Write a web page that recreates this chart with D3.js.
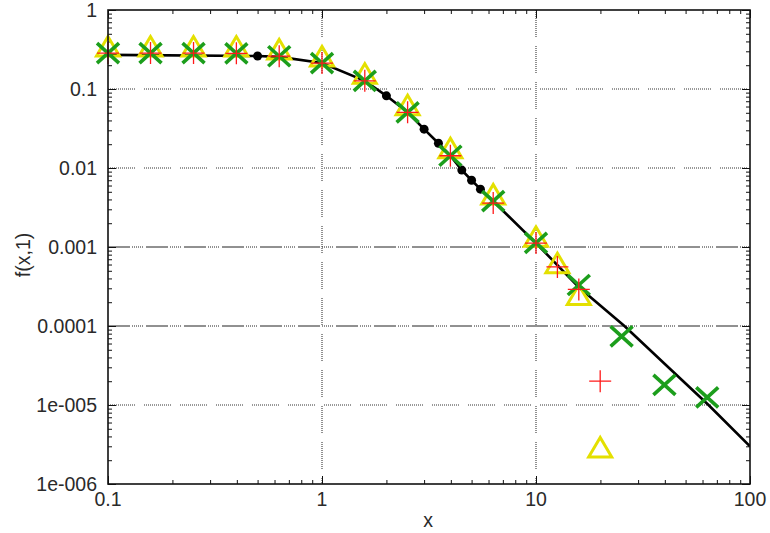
<!DOCTYPE html>
<html>
<head>
<meta charset="utf-8">
<script src="https://cdn.jsdelivr.net/npm/d3@7"></script>
<style>
  html, body { margin: 0; padding: 0; background: #fff; }
  svg { display: block; font-family: "Liberation Sans", Arial, sans-serif; }
</style>
</head>
<body>
<svg id="chart" width="770" height="533"></svg>
<script>
// ---- data ----
const xTickLabels = ["0.1", "1", "10", "100"];
const yTickLabels = ["1e-006", "1e-005", "0.0001", "0.001", "0.01", "0.1", "1"];
const xTickValues = [0.1, 1, 10, 100];
const yTickValues = [1e-6, 1e-5, 1e-4, 1e-3, 1e-2, 1e-1, 1];

const lineX = [0.1, 0.5, 0.631, 1, 1.585, 2, 2.512, 3, 3.5, 3.981, 4.5, 5, 5.5, 6.31, 10, 15.85, 25.9, 40, 64, 100];
const lineY = [0.27, 0.262, 0.255, 0.213, 0.127, 0.082, 0.0507, 0.031, 0.0206, 0.0143, 0.0094, 0.0070, 0.0054, 0.0038, 0.00112, 0.00031, 1e-4, 3.3e-5, 1e-5, 3.0e-6];

const dotX = [0.5, 2, 3, 3.5, 4.5, 5, 5.5];
const dotY = [0.262, 0.082, 0.031, 0.0206, 0.0094, 0.0070, 0.0054];

const plusX = [0.1, 0.158, 0.251, 0.398, 0.631, 1, 1.585, 2.512, 3.981, 6.31, 10, 12.59, 15.85, 19.95];
const plusY = [0.285, 0.285, 0.285, 0.283, 0.26, 0.213, 0.127, 0.0507, 0.0143, 0.0036, 0.00112, 5.6e-4, 2.9e-4, 2.0e-5];

const triX = [0.1, 0.158, 0.251, 0.398, 0.631, 1, 1.585, 2.512, 3.981, 6.31, 10, 12.59, 15.85, 19.95];
const triY = [0.32, 0.32, 0.32, 0.32, 0.295, 0.24, 0.145, 0.058, 0.0165, 0.0043, 0.00125, 5.8e-4, 2.3e-4, 2.7e-6];

const crossX = [0.1, 0.158, 0.251, 0.398, 0.631, 1, 1.585, 2.512, 3.981, 6.31, 10, 15.85, 25.12, 39.81, 63.1];
const crossY = [0.285, 0.285, 0.285, 0.283, 0.26, 0.213, 0.127, 0.0507, 0.0143, 0.0038, 0.00113, 0.00033, 7.4e-5, 1.8e-5, 1.25e-5];

// ---- layout ----
const svg = d3.select("#chart");
const L = 108, T = 10, W = 642, H = 474;
const x = d3.scaleLog().domain([0.1, 100]).range([L, L + W]);
const y = d3.scaleLog().domain([1e-6, 1]).range([T + H, T]);

const g = svg.append("g");

// grid
function dotted() {
  const a = [];
  for (let i = 0; i < 14; i++) a.push(1, 1);
  a[a.length - 1] = 9;
  return a.join(" ");
}
function mixed() {
  const a = [22, 2];
  for (let i = 0; i < 6; i++) a.push(1, 1);
  a[a.length - 1] = 3;
  return a.join(" ");
}
yTickValues.slice(1, -1).forEach(v => {
  const strong = (v === 1e-3 || v === 1e-4);
  g.append("line")
    .attr("x1", L).attr("x2", L + W)
    .attr("y1", y(v)).attr("y2", y(v))
    .attr("stroke", strong ? "#222" : "#333")
    .attr("stroke-width", 1)
    .attr("stroke-dasharray", strong ? mixed() : dotted());
});
xTickValues.slice(1, -1).forEach(v => {
  g.append("line")
    .attr("x1", x(v)).attr("x2", x(v))
    .attr("y1", T).attr("y2", T + H)
    .attr("stroke", "#222")
    .attr("stroke-width", 1)
    .attr("stroke-dasharray", dotted());
});

// ticks (inside, mirrored)
const minorX = [], minorY = [];
[0.1, 1, 10].forEach(d => { for (let k = 2; k <= 9; k++) minorX.push(d * k); });
[1e-6, 1e-5, 1e-4, 1e-3, 1e-2, 1e-1].forEach(d => { for (let k = 2; k <= 9; k++) minorY.push(d * k); });

const axB = d3.axisBottom(x).tickValues(xTickValues).tickSize(-8).tickFormat(() => "");
const axT = d3.axisTop(x).tickValues(xTickValues).tickSize(-8).tickFormat(() => "");
const axL = d3.axisLeft(y).tickValues(yTickValues).tickSize(-8).tickFormat(() => "");
const axR = d3.axisRight(y).tickValues(yTickValues).tickSize(-8).tickFormat(() => "");
const mB = d3.axisBottom(x).tickValues(minorX).tickSize(-4).tickFormat(() => "");
const mT = d3.axisTop(x).tickValues(minorX).tickSize(-4).tickFormat(() => "");
const mL = d3.axisLeft(y).tickValues(minorY).tickSize(-4).tickFormat(() => "");
const mR = d3.axisRight(y).tickValues(minorY).tickSize(-4).tickFormat(() => "");

function addAxis(ax, tx, ty) {
  const a = g.append("g").attr("transform", `translate(${tx},${ty})`).call(ax);
  a.select(".domain").remove();
  a.selectAll("line").attr("stroke", "#111").attr("stroke-width", 1);
}
addAxis(axB, 0, T + H); addAxis(mB, 0, T + H);
addAxis(axT, 0, T); addAxis(mT, 0, T);
addAxis(axL, L, 0); addAxis(mL, L, 0);
addAxis(axR, L + W, 0); addAxis(mR, L + W, 0);

// tick labels
const lab = svg.append("g").attr("fill", "#2a2a2a").attr("font-size", 19.5);
xTickValues.forEach((v, i) => {
  lab.append("text").attr("x", x(v)).attr("y", T + H + 22)
    .attr("text-anchor", "middle").text(xTickLabels[i]);
});
yTickValues.forEach((v, i) => {
  lab.append("text").attr("x", L - 11).attr("y", y(v) + 7)
    .attr("text-anchor", "end").text(yTickLabels[i]);
});
lab.append("text").attr("x", L + W / 2 - 1).attr("y", 527).attr("text-anchor", "middle").text("x");
lab.append("text").attr("transform", `translate(30,${T + H / 2 + 8}) rotate(-90)`)
  .attr("text-anchor", "middle").text("f(x,1)");

// clip
svg.append("clipPath").attr("id", "clip").append("rect")
  .attr("x", L).attr("y", T).attr("width", W).attr("height", H);

// black line
const lineData = lineX.map((v, i) => [v, lineY[i]]);
svg.append("path").datum(lineData)
  .attr("clip-path", "url(#clip)")
  .attr("fill", "none").attr("stroke", "#000").attr("stroke-width", 2.6)
  .attr("d", d3.line().x(d => x(d[0])).y(d => y(d[1])));

svg.append("g").selectAll("circle").data(dotX.map((v, i) => [v, dotY[i]])).join("circle")
  .attr("cx", d => x(d[0])).attr("cy", d => y(d[1])).attr("r", 4.5).attr("fill", "#000");

// yellow triangles
svg.append("g").selectAll("path").data(triX.map((v, i) => [v, triY[i]])).join("path")
  .attr("transform", d => `translate(${x(d[0])},${y(d[1])})`)
  .attr("d", "M0,-12.5L-11.5,7L11.5,7Z")
  .attr("fill", "none").attr("stroke", "#e4e000").attr("stroke-width", 3);

// green X
svg.append("g").selectAll("path").data(crossX.map((v, i) => [v, crossY[i]])).join("path")
  .attr("transform", d => `translate(${x(d[0])},${y(d[1])})`)
  .attr("d", "M-11,-10L11,10M-11,10L11,-10")
  .attr("fill", "none").attr("stroke", "#1c9e1c").attr("stroke-width", 3.6);

// red plus
svg.append("g").selectAll("path").data(plusX.map((v, i) => [v, plusY[i]])).join("path")
  .attr("transform", d => `translate(${x(d[0])},${y(d[1])})`)
  .attr("d", "M-11,0L11,0M0,-11L0,11")
  .attr("fill", "none").attr("stroke", "#ff1a1a").attr("stroke-width", 1.3);

// frame
svg.append("rect").attr("x", L).attr("y", T).attr("width", W).attr("height", H)
  .attr("fill", "none").attr("stroke", "#111").attr("stroke-width", 1.6);
</script>
</body>
</html>
